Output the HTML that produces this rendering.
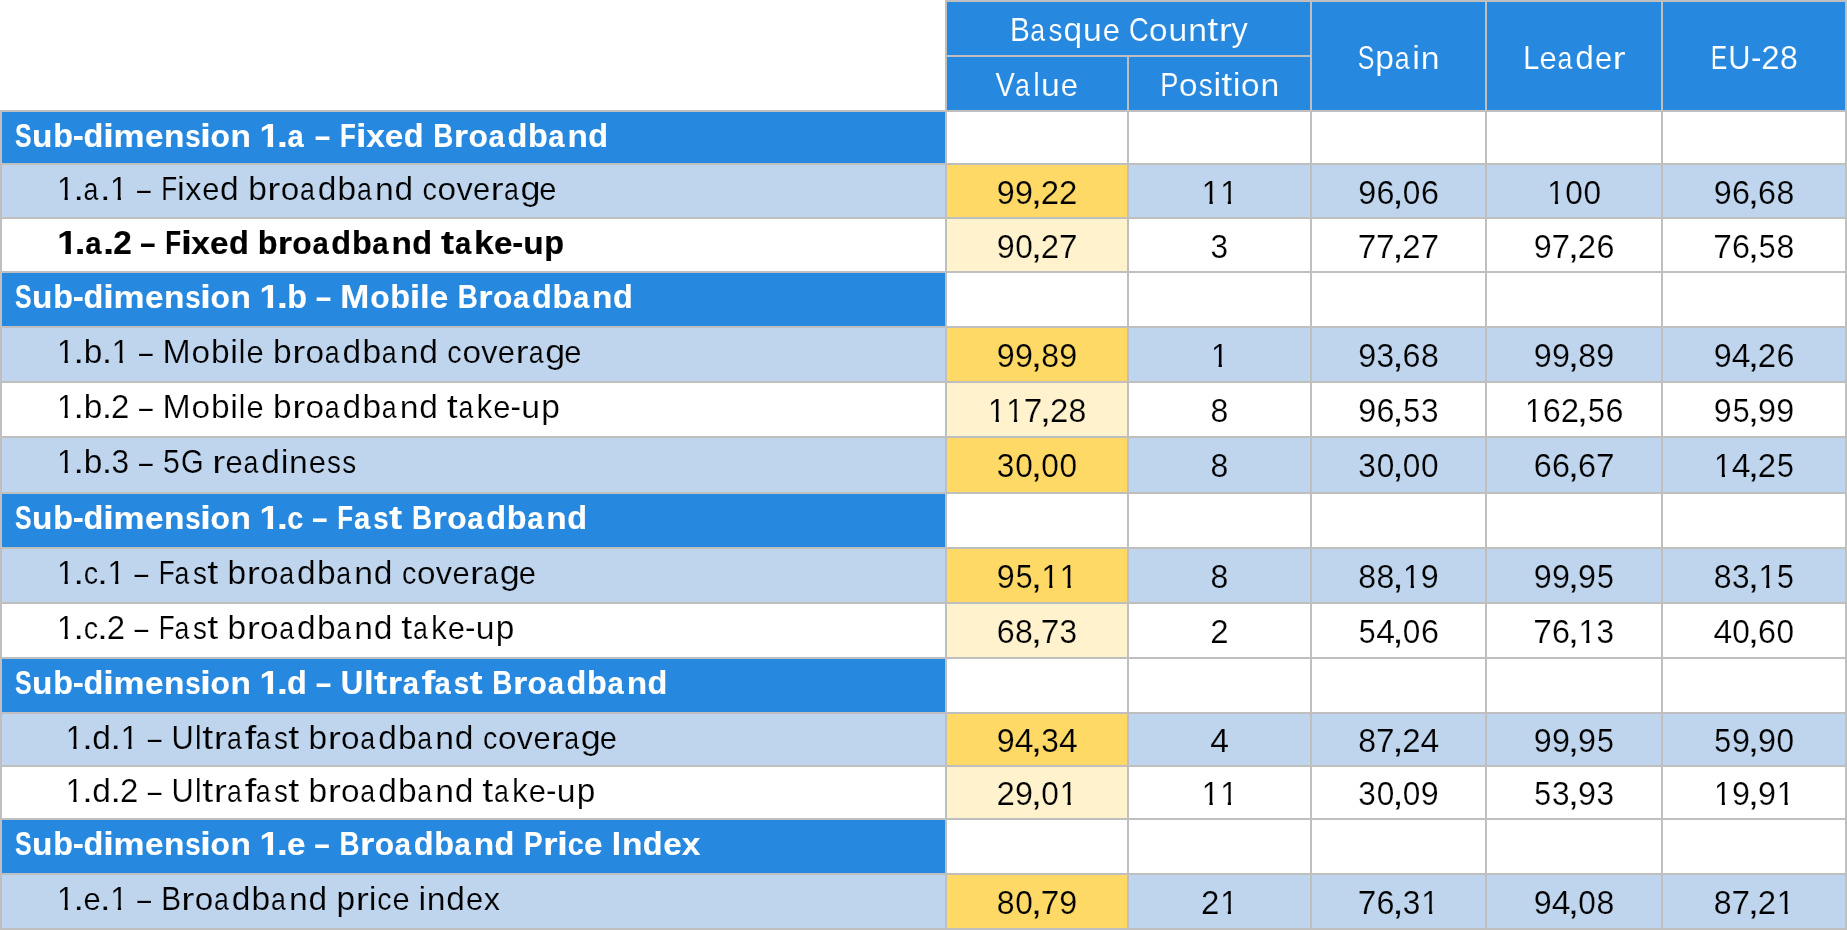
<!DOCTYPE html><html><head><meta charset="utf-8"><title>Table</title><style>
html,body{margin:0;padding:0;background:#fff;}
#w{position:relative;width:1847px;height:930px;overflow:hidden;background:#fff;font-family:"Liberation Sans",sans-serif;will-change:transform;}
.c{position:absolute;}
#w i{position:absolute;left:0;top:0;font-style:normal;white-space:pre;font-size:33px;line-height:33px;transform-origin:0 0;}
#w i.h{color:#fff;} #w i.b{font-weight:bold;}
#w i.sB{-webkit-text-stroke:0.15px #fff;}
#w i.sL{-webkit-text-stroke:0.22px #bed5ed;}
#w i.sW{-webkit-text-stroke:0.22px #fff;}
#w i.sY{-webkit-text-stroke:0.22px #ffd966;}
#w i.sZ{-webkit-text-stroke:0.22px #fff2cc;}
#w i.sW.b{-webkit-text-stroke:0.2px #000;}
#w i.sH{-webkit-text-stroke:0.15px #2688de;}
</style></head><body><div id="w">
<div class="c" style="left:945px;top:0;width:902px;height:112px;background:#bfbfbf"></div>
<div class="c" style="left:0;top:110px;width:1847px;height:820px;background:#bfbfbf"></div>
<div class="c" style="left:947px;top:2px;width:363px;height:53px;background:#2688de"></div>
<div class="c" style="left:947px;top:57px;width:180px;height:53px;background:#2688de"></div>
<div class="c" style="left:1129px;top:57px;width:181px;height:53px;background:#2688de"></div>
<div class="c" style="left:1312px;top:2px;width:173px;height:108px;background:#2688de"></div>
<div class="c" style="left:1487px;top:2px;width:174px;height:108px;background:#2688de"></div>
<div class="c" style="left:1663px;top:2px;width:182px;height:108px;background:#2688de"></div>
<div class="c" style="left:2px;top:112px;width:943px;height:51px;background:#2688de"></div>
<div class="c" style="left:947px;top:112px;width:180px;height:51px;background:#fff"></div>
<div class="c" style="left:1129px;top:112px;width:181px;height:51px;background:#fff"></div>
<div class="c" style="left:1312px;top:112px;width:173px;height:51px;background:#fff"></div>
<div class="c" style="left:1487px;top:112px;width:174px;height:51px;background:#fff"></div>
<div class="c" style="left:1663px;top:112px;width:182px;height:51px;background:#fff"></div>
<div class="c" style="left:2px;top:165px;width:943px;height:52px;background:#bed5ed"></div>
<div class="c" style="left:947px;top:165px;width:180px;height:52px;background:#ffd966"></div>
<div class="c" style="left:1129px;top:165px;width:181px;height:52px;background:#bed5ed"></div>
<div class="c" style="left:1312px;top:165px;width:173px;height:52px;background:#bed5ed"></div>
<div class="c" style="left:1487px;top:165px;width:174px;height:52px;background:#bed5ed"></div>
<div class="c" style="left:1663px;top:165px;width:182px;height:52px;background:#bed5ed"></div>
<div class="c" style="left:2px;top:219px;width:943px;height:52px;background:#fff"></div>
<div class="c" style="left:947px;top:219px;width:180px;height:52px;background:#fff2cc"></div>
<div class="c" style="left:1129px;top:219px;width:181px;height:52px;background:#fff"></div>
<div class="c" style="left:1312px;top:219px;width:173px;height:52px;background:#fff"></div>
<div class="c" style="left:1487px;top:219px;width:174px;height:52px;background:#fff"></div>
<div class="c" style="left:1663px;top:219px;width:182px;height:52px;background:#fff"></div>
<div class="c" style="left:2px;top:273px;width:943px;height:53px;background:#2688de"></div>
<div class="c" style="left:947px;top:273px;width:180px;height:53px;background:#fff"></div>
<div class="c" style="left:1129px;top:273px;width:181px;height:53px;background:#fff"></div>
<div class="c" style="left:1312px;top:273px;width:173px;height:53px;background:#fff"></div>
<div class="c" style="left:1487px;top:273px;width:174px;height:53px;background:#fff"></div>
<div class="c" style="left:1663px;top:273px;width:182px;height:53px;background:#fff"></div>
<div class="c" style="left:2px;top:328px;width:943px;height:53px;background:#bed5ed"></div>
<div class="c" style="left:947px;top:328px;width:180px;height:53px;background:#ffd966"></div>
<div class="c" style="left:1129px;top:328px;width:181px;height:53px;background:#bed5ed"></div>
<div class="c" style="left:1312px;top:328px;width:173px;height:53px;background:#bed5ed"></div>
<div class="c" style="left:1487px;top:328px;width:174px;height:53px;background:#bed5ed"></div>
<div class="c" style="left:1663px;top:328px;width:182px;height:53px;background:#bed5ed"></div>
<div class="c" style="left:2px;top:383px;width:943px;height:53px;background:#fff"></div>
<div class="c" style="left:947px;top:383px;width:180px;height:53px;background:#fff2cc"></div>
<div class="c" style="left:1129px;top:383px;width:181px;height:53px;background:#fff"></div>
<div class="c" style="left:1312px;top:383px;width:173px;height:53px;background:#fff"></div>
<div class="c" style="left:1487px;top:383px;width:174px;height:53px;background:#fff"></div>
<div class="c" style="left:1663px;top:383px;width:182px;height:53px;background:#fff"></div>
<div class="c" style="left:2px;top:438px;width:943px;height:54px;background:#bed5ed"></div>
<div class="c" style="left:947px;top:438px;width:180px;height:54px;background:#ffd966"></div>
<div class="c" style="left:1129px;top:438px;width:181px;height:54px;background:#bed5ed"></div>
<div class="c" style="left:1312px;top:438px;width:173px;height:54px;background:#bed5ed"></div>
<div class="c" style="left:1487px;top:438px;width:174px;height:54px;background:#bed5ed"></div>
<div class="c" style="left:1663px;top:438px;width:182px;height:54px;background:#bed5ed"></div>
<div class="c" style="left:2px;top:494px;width:943px;height:53px;background:#2688de"></div>
<div class="c" style="left:947px;top:494px;width:180px;height:53px;background:#fff"></div>
<div class="c" style="left:1129px;top:494px;width:181px;height:53px;background:#fff"></div>
<div class="c" style="left:1312px;top:494px;width:173px;height:53px;background:#fff"></div>
<div class="c" style="left:1487px;top:494px;width:174px;height:53px;background:#fff"></div>
<div class="c" style="left:1663px;top:494px;width:182px;height:53px;background:#fff"></div>
<div class="c" style="left:2px;top:549px;width:943px;height:53px;background:#bed5ed"></div>
<div class="c" style="left:947px;top:549px;width:180px;height:53px;background:#ffd966"></div>
<div class="c" style="left:1129px;top:549px;width:181px;height:53px;background:#bed5ed"></div>
<div class="c" style="left:1312px;top:549px;width:173px;height:53px;background:#bed5ed"></div>
<div class="c" style="left:1487px;top:549px;width:174px;height:53px;background:#bed5ed"></div>
<div class="c" style="left:1663px;top:549px;width:182px;height:53px;background:#bed5ed"></div>
<div class="c" style="left:2px;top:604px;width:943px;height:53px;background:#fff"></div>
<div class="c" style="left:947px;top:604px;width:180px;height:53px;background:#fff2cc"></div>
<div class="c" style="left:1129px;top:604px;width:181px;height:53px;background:#fff"></div>
<div class="c" style="left:1312px;top:604px;width:173px;height:53px;background:#fff"></div>
<div class="c" style="left:1487px;top:604px;width:174px;height:53px;background:#fff"></div>
<div class="c" style="left:1663px;top:604px;width:182px;height:53px;background:#fff"></div>
<div class="c" style="left:2px;top:659px;width:943px;height:53px;background:#2688de"></div>
<div class="c" style="left:947px;top:659px;width:180px;height:53px;background:#fff"></div>
<div class="c" style="left:1129px;top:659px;width:181px;height:53px;background:#fff"></div>
<div class="c" style="left:1312px;top:659px;width:173px;height:53px;background:#fff"></div>
<div class="c" style="left:1487px;top:659px;width:174px;height:53px;background:#fff"></div>
<div class="c" style="left:1663px;top:659px;width:182px;height:53px;background:#fff"></div>
<div class="c" style="left:2px;top:714px;width:943px;height:51px;background:#bed5ed"></div>
<div class="c" style="left:947px;top:714px;width:180px;height:51px;background:#ffd966"></div>
<div class="c" style="left:1129px;top:714px;width:181px;height:51px;background:#bed5ed"></div>
<div class="c" style="left:1312px;top:714px;width:173px;height:51px;background:#bed5ed"></div>
<div class="c" style="left:1487px;top:714px;width:174px;height:51px;background:#bed5ed"></div>
<div class="c" style="left:1663px;top:714px;width:182px;height:51px;background:#bed5ed"></div>
<div class="c" style="left:2px;top:767px;width:943px;height:51px;background:#fff"></div>
<div class="c" style="left:947px;top:767px;width:180px;height:51px;background:#fff2cc"></div>
<div class="c" style="left:1129px;top:767px;width:181px;height:51px;background:#fff"></div>
<div class="c" style="left:1312px;top:767px;width:173px;height:51px;background:#fff"></div>
<div class="c" style="left:1487px;top:767px;width:174px;height:51px;background:#fff"></div>
<div class="c" style="left:1663px;top:767px;width:182px;height:51px;background:#fff"></div>
<div class="c" style="left:2px;top:820px;width:943px;height:53px;background:#2688de"></div>
<div class="c" style="left:947px;top:820px;width:180px;height:53px;background:#fff"></div>
<div class="c" style="left:1129px;top:820px;width:181px;height:53px;background:#fff"></div>
<div class="c" style="left:1312px;top:820px;width:173px;height:53px;background:#fff"></div>
<div class="c" style="left:1487px;top:820px;width:174px;height:53px;background:#fff"></div>
<div class="c" style="left:1663px;top:820px;width:182px;height:53px;background:#fff"></div>
<div class="c" style="left:2px;top:875px;width:943px;height:53px;background:#bed5ed"></div>
<div class="c" style="left:947px;top:875px;width:180px;height:53px;background:#ffd966"></div>
<div class="c" style="left:1129px;top:875px;width:181px;height:53px;background:#bed5ed"></div>
<div class="c" style="left:1312px;top:875px;width:173px;height:53px;background:#bed5ed"></div>
<div class="c" style="left:1487px;top:875px;width:174px;height:53px;background:#bed5ed"></div>
<div class="c" style="left:1663px;top:875px;width:182px;height:53px;background:#bed5ed"></div>
<i class="h sH" style="transform:matrix(0.901,0,0,1,1009.90,13.00)">B</i>
<i class="h sH" style="transform:matrix(0.810,0,0,0.970,1030.27,13.84)">a</i>
<i class="h sH" style="transform:matrix(0.844,0,0,0.970,1048.62,13.84)">s</i>
<i class="h sH" style="transform:matrix(1.014,0,0,1,1063.39,13.00)">q</i>
<i class="h sH" style="transform:matrix(1.022,0,0,0.970,1082.98,13.84)">u</i>
<i class="h sH" style="transform:matrix(0.935,0,0,0.970,1102.74,13.84)">e</i>
<i class="h sH" style="transform:matrix(0.827,0,0,1,1129.08,13.00)">C</i>
<i class="h sH" style="transform:matrix(1.010,0,0,0.970,1149.10,13.84)">o</i>
<i class="h sH" style="transform:matrix(1.022,0,0,0.970,1168.40,13.84)">u</i>
<i class="h sH" style="transform:matrix(1.021,0,0,0.970,1188.18,13.84)">n</i>
<i class="h sH" style="transform:matrix(1.203,0,0,1,1207.20,13.00)">t</i>
<i class="h sH" style="transform:matrix(1.195,0,0,0.970,1218.74,13.84)">r</i>
<i class="h sH" style="transform:matrix(0.982,0,0,1,1231.62,13.00)">y</i>
<i class="h sH" style="transform:matrix(0.877,0,0,1,995.61,68.00)">V</i>
<i class="h sH" style="transform:matrix(0.810,0,0,0.970,1015.11,68.84)">a</i>
<i class="h sH" style="transform:matrix(0.894,0,0,1,1033.34,68.00)">l</i>
<i class="h sH" style="transform:matrix(1.022,0,0,0.970,1041.04,68.84)">u</i>
<i class="h sH" style="transform:matrix(0.935,0,0,0.970,1060.80,68.84)">e</i>
<i class="h sH" style="transform:matrix(0.825,0,0,1,1160.25,68.00)">P</i>
<i class="h sH" style="transform:matrix(1.010,0,0,0.970,1179.01,68.84)">o</i>
<i class="h sH" style="transform:matrix(0.844,0,0,0.970,1198.82,68.84)">s</i>
<i class="h sH" style="transform:matrix(1.056,0,0,1,1213.40,68.00)">i</i>
<i class="h sH" style="transform:matrix(1.203,0,0,1,1221.18,68.00)">t</i>
<i class="h sH" style="transform:matrix(1.056,0,0,1,1232.79,68.00)">i</i>
<i class="h sH" style="transform:matrix(1.010,0,0,0.970,1241.09,68.84)">o</i>
<i class="h sH" style="transform:matrix(1.021,0,0,0.970,1260.53,68.84)">n</i>
<i class="h sH" style="transform:matrix(0.757,0,0,1,1357.67,41.00)">S</i>
<i class="h sH" style="transform:matrix(1.016,0,0,1,1375.30,41.00)">p</i>
<i class="h sH" style="transform:matrix(0.810,0,0,0.970,1394.65,41.84)">a</i>
<i class="h sH" style="transform:matrix(1.056,0,0,1,1412.32,41.00)">i</i>
<i class="h sH" style="transform:matrix(1.021,0,0,0.970,1420.72,41.84)">n</i>
<i class="h sH" style="transform:matrix(0.875,0,0,1,1523.28,41.00)">L</i>
<i class="h sH" style="transform:matrix(0.935,0,0,0.970,1539.60,41.84)">e</i>
<i class="h sH" style="transform:matrix(0.810,0,0,0.970,1557.40,41.84)">a</i>
<i class="h sH" style="transform:matrix(1.015,0,0,1,1575.26,41.00)">d</i>
<i class="h sH" style="transform:matrix(0.935,0,0,0.970,1594.96,41.84)">e</i>
<i class="h sH" style="transform:matrix(1.195,0,0,0.970,1612.56,41.84)">r</i>
<i class="h sH" style="transform:matrix(0.750,0,0,1,1710.78,41.00)">E</i>
<i class="h sH" style="transform:matrix(0.933,0,0,1,1728.34,41.00)">U</i>
<i class="h sH" style="transform:matrix(0.952,0,0,1,1751.02,41.00)">-</i>
<i class="h sH" style="transform:matrix(0.999,0,0,1,1761.30,41.00)">2</i>
<i class="h sH" style="transform:matrix(0.970,0,0,1,1779.93,41.00)">8</i>
<i class="h b sB" style="transform:matrix(0.753,0,0,1,14.88,119.00)">S</i>
<i class="h b sB" style="transform:matrix(1.012,0,0,0.970,32.09,119.84)">u</i>
<i class="h b sB" style="transform:matrix(0.981,0,0,1,53.15,119.00)">b</i>
<i class="h b sB" style="transform:matrix(1.001,0,0,1,72.70,119.00)">-</i>
<i class="h b sB" style="transform:matrix(0.982,0,0,1,83.44,119.00)">d</i>
<i class="h b sB" style="transform:matrix(1.146,0,0,1,103.24,119.00)">i</i>
<i class="h b sB" style="transform:matrix(1.056,0,0,0.970,113.55,119.84)">m</i>
<i class="h b sB" style="transform:matrix(1.010,0,0,0.970,144.91,119.84)">e</i>
<i class="h b sB" style="transform:matrix(1.012,0,0,0.970,163.98,119.84)">n</i>
<i class="h b sB" style="transform:matrix(0.837,0,0,0.970,185.18,119.84)">s</i>
<i class="h b sB" style="transform:matrix(1.146,0,0,1,200.27,119.00)">i</i>
<i class="h b sB" style="transform:matrix(0.963,0,0,0.970,210.58,119.84)">o</i>
<i class="h b sB" style="transform:matrix(1.012,0,0,0.970,230.49,119.84)">n</i>
<i class="h b sB" style="transform:matrix(1.100,0,0,1,259.38,119.00);clip-path:polygon(-9px -9px,40px -9px,40px 23.43px,12.48px 23.43px,12.48px 40px,7.45px 40px,7.45px 23.43px,-9px 23.43px)">1</i>
<i class="h b sB" style="transform:matrix(1.174,0,0,1,277.00,119.00)">.</i>
<i class="h b sB" style="transform:matrix(0.885,0,0,0.970,287.42,119.84)">a</i>
<i class="h b sB" style="transform:matrix(0.822,0,0,1,315.03,119.00)">–</i>
<i class="h b sB" style="transform:matrix(0.782,0,0,1,340.03,119.00)">F</i>
<i class="h b sB" style="transform:matrix(1.146,0,0,1,356.10,119.00)">i</i>
<i class="h b sB" style="transform:matrix(1.017,0,0,0.970,366.14,119.84)">x</i>
<i class="h b sB" style="transform:matrix(1.010,0,0,0.970,384.85,119.84)">e</i>
<i class="h b sB" style="transform:matrix(0.982,0,0,1,403.72,119.00)">d</i>
<i class="h b sB" style="transform:matrix(0.842,0,0,1,433.20,119.00)">B</i>
<i class="h b sB" style="transform:matrix(1.117,0,0,0.970,453.75,119.84)">r</i>
<i class="h b sB" style="transform:matrix(0.963,0,0,0.970,468.40,119.84)">o</i>
<i class="h b sB" style="transform:matrix(0.885,0,0,0.970,488.51,119.84)">a</i>
<i class="h b sB" style="transform:matrix(0.982,0,0,1,507.46,119.00)">d</i>
<i class="h b sB" style="transform:matrix(0.981,0,0,1,527.97,119.00)">b</i>
<i class="h b sB" style="transform:matrix(0.885,0,0,0.970,548.34,119.84)">a</i>
<i class="h b sB" style="transform:matrix(1.012,0,0,0.970,567.48,119.84)">n</i>
<i class="h b sB" style="transform:matrix(0.982,0,0,1,588.32,119.00)">d</i>
<i class="sL" style="transform:matrix(0.950,0,0,1,56.90,172.00);clip-path:polygon(-9px -9px,40px -9px,40px 24.33px,11.46px 24.33px,11.46px 40px,8.05px 40px,8.05px 24.33px,-9px 24.33px)">1</i>
<i class="sL" style="transform:matrix(1.198,0,0,1,73.32,172.00)">.</i>
<i class="sL" style="transform:matrix(0.810,0,0,0.970,83.41,172.84)">a</i>
<i class="sL" style="transform:matrix(1.198,0,0,1,99.64,172.00)">.</i>
<i class="sL" style="transform:matrix(0.950,0,0,1,110.02,172.00);clip-path:polygon(-9px -9px,40px -9px,40px 24.33px,11.46px 24.33px,11.46px 40px,8.05px 40px,8.05px 24.33px,-9px 24.33px)">1</i>
<i class="sL" style="transform:matrix(0.750,0,0,1,137.12,172.00)">–</i>
<i class="sL" style="transform:matrix(0.790,0,0,1,161.31,172.00)">F</i>
<i class="sL" style="transform:matrix(1.056,0,0,1,177.03,172.00)">i</i>
<i class="sL" style="transform:matrix(0.984,0,0,0.970,185.16,172.84)">x</i>
<i class="sL" style="transform:matrix(0.935,0,0,0.970,202.17,172.84)">e</i>
<i class="sL" style="transform:matrix(1.015,0,0,1,220.03,172.00)">d</i>
<i class="sL" style="transform:matrix(1.016,0,0,1,248.15,172.00)">b</i>
<i class="sL" style="transform:matrix(1.195,0,0,0.970,267.30,172.84)">r</i>
<i class="sL" style="transform:matrix(1.010,0,0,0.970,280.63,172.84)">o</i>
<i class="sL" style="transform:matrix(0.810,0,0,0.970,299.89,172.84)">a</i>
<i class="sL" style="transform:matrix(1.015,0,0,1,317.75,172.00)">d</i>
<i class="sL" style="transform:matrix(1.016,0,0,1,337.55,172.00)">b</i>
<i class="sL" style="transform:matrix(0.810,0,0,0.970,356.91,172.84)">a</i>
<i class="sL" style="transform:matrix(1.021,0,0,0.970,374.88,172.84)">n</i>
<i class="sL" style="transform:matrix(1.015,0,0,1,394.40,172.00)">d</i>
<i class="sL" style="transform:matrix(0.870,0,0,0.970,422.51,172.84)">c</i>
<i class="sL" style="transform:matrix(1.010,0,0,0.970,437.57,172.84)">o</i>
<i class="sL" style="transform:matrix(0.985,0,0,0.970,456.39,172.84)">v</i>
<i class="sL" style="transform:matrix(0.935,0,0,0.970,473.01,172.84)">e</i>
<i class="sL" style="transform:matrix(1.195,0,0,0.970,490.61,172.84)">r</i>
<i class="sL" style="transform:matrix(0.810,0,0,0.970,503.88,172.84)">a</i>
<i class="sL" style="transform:matrix(1.089,0,0,1,520.44,172.00)">g</i>
<i class="sL" style="transform:matrix(0.935,0,0,0.970,539.36,172.84)">e</i>
<i class="sY" style="transform:matrix(0.979,0,0,1,996.63,176.00)">9</i>
<i class="sY" style="transform:matrix(0.979,0,0,1,1014.92,176.00)">9</i>
<i class="sY" style="transform:matrix(1.300,0,0,1,1030.46,176.00)">,</i>
<i class="sY" style="transform:matrix(0.999,0,0,1,1040.83,176.00)">2</i>
<i class="sY" style="transform:matrix(0.999,0,0,1,1059.12,176.00)">2</i>
<i class="sL" style="transform:matrix(0.950,0,0,1,1201.84,176.00);clip-path:polygon(-9px -9px,40px -9px,40px 24.33px,11.46px 24.33px,11.46px 40px,8.05px 40px,8.05px 24.33px,-9px 24.33px)">1</i>
<i class="sL" style="transform:matrix(0.950,0,0,1,1220.14,176.00);clip-path:polygon(-9px -9px,40px -9px,40px 24.33px,11.46px 24.33px,11.46px 40px,8.05px 40px,8.05px 24.33px,-9px 24.33px)">1</i>
<i class="sL" style="transform:matrix(0.979,0,0,1,1358.13,176.00)">9</i>
<i class="sL" style="transform:matrix(0.979,0,0,1,1376.47,176.00)">6</i>
<i class="sL" style="transform:matrix(1.300,0,0,1,1391.96,176.00)">,</i>
<i class="sL" style="transform:matrix(0.958,0,0,1,1402.78,176.00)">0</i>
<i class="sL" style="transform:matrix(0.979,0,0,1,1420.91,176.00)">6</i>
<i class="sL" style="transform:matrix(0.950,0,0,1,1547.19,176.00);clip-path:polygon(-9px -9px,40px -9px,40px 24.33px,11.46px 24.33px,11.46px 40px,8.05px 40px,8.05px 24.33px,-9px 24.33px)">1</i>
<i class="sL" style="transform:matrix(0.958,0,0,1,1565.21,176.00)">0</i>
<i class="sL" style="transform:matrix(0.958,0,0,1,1583.51,176.00)">0</i>
<i class="sL" style="transform:matrix(0.979,0,0,1,1713.63,176.00)">9</i>
<i class="sL" style="transform:matrix(0.979,0,0,1,1731.97,176.00)">6</i>
<i class="sL" style="transform:matrix(1.300,0,0,1,1747.46,176.00)">,</i>
<i class="sL" style="transform:matrix(0.979,0,0,1,1758.11,176.00)">6</i>
<i class="sL" style="transform:matrix(0.970,0,0,1,1776.45,176.00)">8</i>
<i class="b sW" style="transform:matrix(1.100,0,0,1,57.15,226.00);clip-path:polygon(-9px -9px,40px -9px,40px 23.43px,12.48px 23.43px,12.48px 40px,7.45px 40px,7.45px 23.43px,-9px 23.43px)">1</i>
<i class="b sW" style="transform:matrix(1.174,0,0,1,74.77,226.00)">.</i>
<i class="b sW" style="transform:matrix(0.885,0,0,0.970,85.19,226.84)">a</i>
<i class="b sW" style="transform:matrix(1.174,0,0,1,103.23,226.00)">.</i>
<i class="b sW" style="transform:matrix(1.009,0,0,1,113.22,226.00)">2</i>
<i class="b sW" style="transform:matrix(0.822,0,0,1,140.19,226.00)">–</i>
<i class="b sW" style="transform:matrix(0.782,0,0,1,165.19,226.00)">F</i>
<i class="b sW" style="transform:matrix(1.146,0,0,1,181.26,226.00)">i</i>
<i class="b sW" style="transform:matrix(1.017,0,0,0.970,191.30,226.84)">x</i>
<i class="b sW" style="transform:matrix(1.010,0,0,0.970,210.01,226.84)">e</i>
<i class="b sW" style="transform:matrix(0.982,0,0,1,228.89,226.00)">d</i>
<i class="b sW" style="transform:matrix(0.981,0,0,1,257.71,226.00)">b</i>
<i class="b sW" style="transform:matrix(1.117,0,0,0.970,277.66,226.84)">r</i>
<i class="b sW" style="transform:matrix(0.963,0,0,0.970,292.32,226.84)">o</i>
<i class="b sW" style="transform:matrix(0.885,0,0,0.970,312.42,226.84)">a</i>
<i class="b sW" style="transform:matrix(0.982,0,0,1,331.37,226.00)">d</i>
<i class="b sW" style="transform:matrix(0.981,0,0,1,351.88,226.00)">b</i>
<i class="b sW" style="transform:matrix(0.885,0,0,0.970,372.25,226.84)">a</i>
<i class="b sW" style="transform:matrix(1.012,0,0,0.970,391.39,226.84)">n</i>
<i class="b sW" style="transform:matrix(0.982,0,0,1,412.23,226.00)">d</i>
<i class="b sW" style="transform:matrix(1.191,0,0,1,440.94,226.00)">t</i>
<i class="b sW" style="transform:matrix(0.885,0,0,0.970,455.06,226.84)">a</i>
<i class="b sW" style="transform:matrix(1.079,0,0,1,473.92,226.00)">k</i>
<i class="b sW" style="transform:matrix(1.010,0,0,0.970,493.88,226.84)">e</i>
<i class="b sW" style="transform:matrix(1.001,0,0,1,512.32,226.00)">-</i>
<i class="b sW" style="transform:matrix(1.012,0,0,0.970,523.29,226.84)">u</i>
<i class="b sW" style="transform:matrix(0.981,0,0,1,544.35,226.00)">p</i>
<i class="sZ" style="transform:matrix(0.979,0,0,1,996.63,230.00)">9</i>
<i class="sZ" style="transform:matrix(0.958,0,0,1,1015.14,230.00)">0</i>
<i class="sZ" style="transform:matrix(1.300,0,0,1,1030.46,230.00)">,</i>
<i class="sZ" style="transform:matrix(0.999,0,0,1,1040.83,230.00)">2</i>
<i class="sZ" style="transform:matrix(1.013,0,0,1,1058.97,230.00)">7</i>
<i class="sW" style="transform:matrix(0.956,0,0,1,1210.62,230.00)">3</i>
<i class="sW" style="transform:matrix(1.013,0,0,1,1357.74,230.00)">7</i>
<i class="sW" style="transform:matrix(1.013,0,0,1,1376.04,230.00)">7</i>
<i class="sW" style="transform:matrix(1.300,0,0,1,1391.96,230.00)">,</i>
<i class="sW" style="transform:matrix(0.999,0,0,1,1402.33,230.00)">2</i>
<i class="sW" style="transform:matrix(1.013,0,0,1,1420.47,230.00)">7</i>
<i class="sW" style="transform:matrix(0.979,0,0,1,1533.63,230.00)">9</i>
<i class="sW" style="transform:matrix(1.013,0,0,1,1551.54,230.00)">7</i>
<i class="sW" style="transform:matrix(1.300,0,0,1,1567.46,230.00)">,</i>
<i class="sW" style="transform:matrix(0.999,0,0,1,1577.83,230.00)">2</i>
<i class="sW" style="transform:matrix(0.979,0,0,1,1596.41,230.00)">6</i>
<i class="sW" style="transform:matrix(1.013,0,0,1,1713.24,230.00)">7</i>
<i class="sW" style="transform:matrix(0.979,0,0,1,1731.97,230.00)">6</i>
<i class="sW" style="transform:matrix(1.300,0,0,1,1747.46,230.00)">,</i>
<i class="sW" style="transform:matrix(0.919,0,0,1,1758.79,230.00)">5</i>
<i class="sW" style="transform:matrix(0.970,0,0,1,1776.45,230.00)">8</i>
<i class="h b sB" style="transform:matrix(0.753,0,0,1,14.88,280.00)">S</i>
<i class="h b sB" style="transform:matrix(1.012,0,0,0.970,32.09,280.84)">u</i>
<i class="h b sB" style="transform:matrix(0.981,0,0,1,53.15,280.00)">b</i>
<i class="h b sB" style="transform:matrix(1.001,0,0,1,72.70,280.00)">-</i>
<i class="h b sB" style="transform:matrix(0.982,0,0,1,83.44,280.00)">d</i>
<i class="h b sB" style="transform:matrix(1.146,0,0,1,103.24,280.00)">i</i>
<i class="h b sB" style="transform:matrix(1.056,0,0,0.970,113.55,280.84)">m</i>
<i class="h b sB" style="transform:matrix(1.010,0,0,0.970,144.91,280.84)">e</i>
<i class="h b sB" style="transform:matrix(1.012,0,0,0.970,163.98,280.84)">n</i>
<i class="h b sB" style="transform:matrix(0.837,0,0,0.970,185.18,280.84)">s</i>
<i class="h b sB" style="transform:matrix(1.146,0,0,1,200.27,280.00)">i</i>
<i class="h b sB" style="transform:matrix(0.963,0,0,0.970,210.58,280.84)">o</i>
<i class="h b sB" style="transform:matrix(1.012,0,0,0.970,230.49,280.84)">n</i>
<i class="h b sB" style="transform:matrix(1.100,0,0,1,259.38,280.00);clip-path:polygon(-9px -9px,40px -9px,40px 23.43px,12.48px 23.43px,12.48px 40px,7.45px 40px,7.45px 23.43px,-9px 23.43px)">1</i>
<i class="h b sB" style="transform:matrix(1.174,0,0,1,277.00,280.00)">.</i>
<i class="h b sB" style="transform:matrix(0.981,0,0,1,287.29,280.00)">b</i>
<i class="h b sB" style="transform:matrix(0.822,0,0,1,315.95,280.00)">–</i>
<i class="h b sB" style="transform:matrix(1.058,0,0,1,340.34,280.00)">M</i>
<i class="h b sB" style="transform:matrix(0.963,0,0,0.970,370.17,280.84)">o</i>
<i class="h b sB" style="transform:matrix(0.981,0,0,1,390.15,280.00)">b</i>
<i class="h b sB" style="transform:matrix(1.146,0,0,1,409.69,280.00)">i</i>
<i class="h b sB" style="transform:matrix(1.053,0,0,1,419.88,280.00)">l</i>
<i class="h b sB" style="transform:matrix(1.010,0,0,0.970,429.70,280.84)">e</i>
<i class="h b sB" style="transform:matrix(0.842,0,0,1,457.80,280.00)">B</i>
<i class="h b sB" style="transform:matrix(1.117,0,0,0.970,478.36,280.84)">r</i>
<i class="h b sB" style="transform:matrix(0.963,0,0,0.970,493.01,280.84)">o</i>
<i class="h b sB" style="transform:matrix(0.885,0,0,0.970,513.12,280.84)">a</i>
<i class="h b sB" style="transform:matrix(0.982,0,0,1,532.07,280.00)">d</i>
<i class="h b sB" style="transform:matrix(0.981,0,0,1,552.58,280.00)">b</i>
<i class="h b sB" style="transform:matrix(0.885,0,0,0.970,572.95,280.84)">a</i>
<i class="h b sB" style="transform:matrix(1.012,0,0,0.970,592.09,280.84)">n</i>
<i class="h b sB" style="transform:matrix(0.982,0,0,1,612.93,280.00)">d</i>
<i class="sL" style="transform:matrix(0.950,0,0,1,56.90,335.00);clip-path:polygon(-9px -9px,40px -9px,40px 24.33px,11.46px 24.33px,11.46px 40px,8.05px 40px,8.05px 24.33px,-9px 24.33px)">1</i>
<i class="sL" style="transform:matrix(1.198,0,0,1,73.32,335.00)">.</i>
<i class="sL" style="transform:matrix(1.016,0,0,1,83.66,335.00)">b</i>
<i class="sL" style="transform:matrix(1.198,0,0,1,101.45,335.00)">.</i>
<i class="sL" style="transform:matrix(0.950,0,0,1,111.84,335.00);clip-path:polygon(-9px -9px,40px -9px,40px 24.33px,11.46px 24.33px,11.46px 40px,8.05px 40px,8.05px 24.33px,-9px 24.33px)">1</i>
<i class="sL" style="transform:matrix(0.750,0,0,1,138.93,335.00)">–</i>
<i class="sL" style="transform:matrix(1.025,0,0,1,162.49,335.00)">M</i>
<i class="sL" style="transform:matrix(1.010,0,0,0.970,191.41,335.84)">o</i>
<i class="sL" style="transform:matrix(1.016,0,0,1,210.93,335.00)">b</i>
<i class="sL" style="transform:matrix(1.056,0,0,1,230.15,335.00)">i</i>
<i class="sL" style="transform:matrix(0.894,0,0,1,238.81,335.00)">l</i>
<i class="sL" style="transform:matrix(0.935,0,0,0.970,246.62,335.84)">e</i>
<i class="sL" style="transform:matrix(1.016,0,0,1,272.99,335.00)">b</i>
<i class="sL" style="transform:matrix(1.195,0,0,0.970,292.14,335.84)">r</i>
<i class="sL" style="transform:matrix(1.010,0,0,0.970,305.47,335.84)">o</i>
<i class="sL" style="transform:matrix(0.810,0,0,0.970,324.74,335.84)">a</i>
<i class="sL" style="transform:matrix(1.015,0,0,1,342.59,335.00)">d</i>
<i class="sL" style="transform:matrix(1.016,0,0,1,362.40,335.00)">b</i>
<i class="sL" style="transform:matrix(0.810,0,0,0.970,381.75,335.84)">a</i>
<i class="sL" style="transform:matrix(1.021,0,0,0.970,399.73,335.84)">n</i>
<i class="sL" style="transform:matrix(1.015,0,0,1,419.25,335.00)">d</i>
<i class="sL" style="transform:matrix(0.870,0,0,0.970,447.36,335.84)">c</i>
<i class="sL" style="transform:matrix(1.010,0,0,0.970,462.41,335.84)">o</i>
<i class="sL" style="transform:matrix(0.985,0,0,0.970,481.23,335.84)">v</i>
<i class="sL" style="transform:matrix(0.935,0,0,0.970,497.86,335.84)">e</i>
<i class="sL" style="transform:matrix(1.195,0,0,0.970,515.46,335.84)">r</i>
<i class="sL" style="transform:matrix(0.810,0,0,0.970,528.72,335.84)">a</i>
<i class="sL" style="transform:matrix(1.089,0,0,1,545.29,335.00)">g</i>
<i class="sL" style="transform:matrix(0.935,0,0,0.970,564.20,335.84)">e</i>
<i class="sY" style="transform:matrix(0.979,0,0,1,996.63,339.00)">9</i>
<i class="sY" style="transform:matrix(0.979,0,0,1,1014.92,339.00)">9</i>
<i class="sY" style="transform:matrix(1.300,0,0,1,1030.46,339.00)">,</i>
<i class="sY" style="transform:matrix(0.970,0,0,1,1041.16,339.00)">8</i>
<i class="sY" style="transform:matrix(0.979,0,0,1,1059.36,339.00)">9</i>
<i class="sL" style="transform:matrix(0.950,0,0,1,1210.99,339.00);clip-path:polygon(-9px -9px,40px -9px,40px 24.33px,11.46px 24.33px,11.46px 40px,8.05px 40px,8.05px 24.33px,-9px 24.33px)">1</i>
<i class="sL" style="transform:matrix(0.979,0,0,1,1358.13,339.00)">9</i>
<i class="sL" style="transform:matrix(0.956,0,0,1,1376.55,339.00)">3</i>
<i class="sL" style="transform:matrix(1.300,0,0,1,1391.96,339.00)">,</i>
<i class="sL" style="transform:matrix(0.979,0,0,1,1402.61,339.00)">6</i>
<i class="sL" style="transform:matrix(0.970,0,0,1,1420.95,339.00)">8</i>
<i class="sL" style="transform:matrix(0.979,0,0,1,1533.63,339.00)">9</i>
<i class="sL" style="transform:matrix(0.979,0,0,1,1551.92,339.00)">9</i>
<i class="sL" style="transform:matrix(1.300,0,0,1,1567.46,339.00)">,</i>
<i class="sL" style="transform:matrix(0.970,0,0,1,1578.16,339.00)">8</i>
<i class="sL" style="transform:matrix(0.979,0,0,1,1596.36,339.00)">9</i>
<i class="sL" style="transform:matrix(0.979,0,0,1,1713.63,339.00)">9</i>
<i class="sL" style="transform:matrix(1.021,0,0,1,1731.68,339.00)">4</i>
<i class="sL" style="transform:matrix(1.300,0,0,1,1747.46,339.00)">,</i>
<i class="sL" style="transform:matrix(0.999,0,0,1,1757.83,339.00)">2</i>
<i class="sL" style="transform:matrix(0.979,0,0,1,1776.41,339.00)">6</i>
<i class="sW" style="transform:matrix(0.950,0,0,1,56.90,390.00);clip-path:polygon(-9px -9px,40px -9px,40px 24.33px,11.46px 24.33px,11.46px 40px,8.05px 40px,8.05px 24.33px,-9px 24.33px)">1</i>
<i class="sW" style="transform:matrix(1.198,0,0,1,73.32,390.00)">.</i>
<i class="sW" style="transform:matrix(1.016,0,0,1,83.66,390.00)">b</i>
<i class="sW" style="transform:matrix(1.198,0,0,1,101.45,390.00)">.</i>
<i class="sW" style="transform:matrix(0.999,0,0,1,111.10,390.00)">2</i>
<i class="sW" style="transform:matrix(0.750,0,0,1,138.93,390.00)">–</i>
<i class="sW" style="transform:matrix(1.025,0,0,1,162.49,390.00)">M</i>
<i class="sW" style="transform:matrix(1.010,0,0,0.970,191.41,390.84)">o</i>
<i class="sW" style="transform:matrix(1.016,0,0,1,210.93,390.00)">b</i>
<i class="sW" style="transform:matrix(1.056,0,0,1,230.15,390.00)">i</i>
<i class="sW" style="transform:matrix(0.894,0,0,1,238.81,390.00)">l</i>
<i class="sW" style="transform:matrix(0.935,0,0,0.970,246.62,390.84)">e</i>
<i class="sW" style="transform:matrix(1.016,0,0,1,272.99,390.00)">b</i>
<i class="sW" style="transform:matrix(1.195,0,0,0.970,292.14,390.84)">r</i>
<i class="sW" style="transform:matrix(1.010,0,0,0.970,305.47,390.84)">o</i>
<i class="sW" style="transform:matrix(0.810,0,0,0.970,324.74,390.84)">a</i>
<i class="sW" style="transform:matrix(1.015,0,0,1,342.59,390.00)">d</i>
<i class="sW" style="transform:matrix(1.016,0,0,1,362.40,390.00)">b</i>
<i class="sW" style="transform:matrix(0.810,0,0,0.970,381.75,390.84)">a</i>
<i class="sW" style="transform:matrix(1.021,0,0,0.970,399.73,390.84)">n</i>
<i class="sW" style="transform:matrix(1.015,0,0,1,419.25,390.00)">d</i>
<i class="sW" style="transform:matrix(1.203,0,0,1,446.66,390.00)">t</i>
<i class="sW" style="transform:matrix(0.810,0,0,0.970,458.41,390.84)">a</i>
<i class="sW" style="transform:matrix(0.957,0,0,1,476.49,390.00)">k</i>
<i class="sW" style="transform:matrix(0.935,0,0,0.970,493.15,390.84)">e</i>
<i class="sW" style="transform:matrix(0.952,0,0,1,510.54,390.00)">-</i>
<i class="sW" style="transform:matrix(1.022,0,0,0.970,521.29,390.84)">u</i>
<i class="sW" style="transform:matrix(1.016,0,0,1,541.15,390.00)">p</i>
<i class="sZ" style="transform:matrix(0.950,0,0,1,987.97,394.00);clip-path:polygon(-9px -9px,40px -9px,40px 24.33px,11.46px 24.33px,11.46px 40px,8.05px 40px,8.05px 24.33px,-9px 24.33px)">1</i>
<i class="sZ" style="transform:matrix(0.950,0,0,1,1006.27,394.00);clip-path:polygon(-9px -9px,40px -9px,40px 24.33px,11.46px 24.33px,11.46px 40px,8.05px 40px,8.05px 24.33px,-9px 24.33px)">1</i>
<i class="sZ" style="transform:matrix(1.013,0,0,1,1023.68,394.00)">7</i>
<i class="sZ" style="transform:matrix(1.300,0,0,1,1039.61,394.00)">,</i>
<i class="sZ" style="transform:matrix(0.999,0,0,1,1049.98,394.00)">2</i>
<i class="sZ" style="transform:matrix(0.970,0,0,1,1068.60,394.00)">8</i>
<i class="sW" style="transform:matrix(0.970,0,0,1,1210.59,394.00)">8</i>
<i class="sW" style="transform:matrix(0.979,0,0,1,1358.13,394.00)">9</i>
<i class="sW" style="transform:matrix(0.979,0,0,1,1376.47,394.00)">6</i>
<i class="sW" style="transform:matrix(1.300,0,0,1,1391.96,394.00)">,</i>
<i class="sW" style="transform:matrix(0.919,0,0,1,1403.29,394.00)">5</i>
<i class="sW" style="transform:matrix(0.956,0,0,1,1420.99,394.00)">3</i>
<i class="sW" style="transform:matrix(0.950,0,0,1,1524.97,394.00);clip-path:polygon(-9px -9px,40px -9px,40px 24.33px,11.46px 24.33px,11.46px 40px,8.05px 40px,8.05px 24.33px,-9px 24.33px)">1</i>
<i class="sW" style="transform:matrix(0.979,0,0,1,1542.82,394.00)">6</i>
<i class="sW" style="transform:matrix(0.999,0,0,1,1560.83,394.00)">2</i>
<i class="sW" style="transform:matrix(1.300,0,0,1,1576.61,394.00)">,</i>
<i class="sW" style="transform:matrix(0.919,0,0,1,1587.93,394.00)">5</i>
<i class="sW" style="transform:matrix(0.979,0,0,1,1605.55,394.00)">6</i>
<i class="sW" style="transform:matrix(0.979,0,0,1,1713.63,394.00)">9</i>
<i class="sW" style="transform:matrix(0.919,0,0,1,1732.65,394.00)">5</i>
<i class="sW" style="transform:matrix(1.300,0,0,1,1747.46,394.00)">,</i>
<i class="sW" style="transform:matrix(0.979,0,0,1,1758.06,394.00)">9</i>
<i class="sW" style="transform:matrix(0.979,0,0,1,1776.36,394.00)">9</i>
<i class="sL" style="transform:matrix(0.950,0,0,1,56.90,445.00);clip-path:polygon(-9px -9px,40px -9px,40px 24.33px,11.46px 24.33px,11.46px 40px,8.05px 40px,8.05px 24.33px,-9px 24.33px)">1</i>
<i class="sL" style="transform:matrix(1.198,0,0,1,73.32,445.00)">.</i>
<i class="sL" style="transform:matrix(1.016,0,0,1,83.66,445.00)">b</i>
<i class="sL" style="transform:matrix(1.198,0,0,1,101.45,445.00)">.</i>
<i class="sL" style="transform:matrix(0.956,0,0,1,111.47,445.00)">3</i>
<i class="sL" style="transform:matrix(0.750,0,0,1,138.93,445.00)">–</i>
<i class="sL" style="transform:matrix(0.919,0,0,1,162.99,445.00)">5</i>
<i class="sL" style="transform:matrix(0.882,0,0,1,180.91,445.00)">G</i>
<i class="sL" style="transform:matrix(1.195,0,0,0.970,212.16,445.84)">r</i>
<i class="sL" style="transform:matrix(0.935,0,0,0.970,225.58,445.84)">e</i>
<i class="sL" style="transform:matrix(0.810,0,0,0.970,243.38,445.84)">a</i>
<i class="sL" style="transform:matrix(1.015,0,0,1,261.23,445.00)">d</i>
<i class="sL" style="transform:matrix(1.056,0,0,1,280.65,445.00)">i</i>
<i class="sL" style="transform:matrix(1.021,0,0,0.970,289.06,445.84)">n</i>
<i class="sL" style="transform:matrix(0.935,0,0,0.970,308.67,445.84)">e</i>
<i class="sL" style="transform:matrix(0.844,0,0,0.970,327.02,445.84)">s</i>
<i class="sL" style="transform:matrix(0.844,0,0,0.970,342.28,445.84)">s</i>
<i class="sY" style="transform:matrix(0.956,0,0,1,996.75,449.00)">3</i>
<i class="sY" style="transform:matrix(0.958,0,0,1,1015.14,449.00)">0</i>
<i class="sY" style="transform:matrix(1.300,0,0,1,1030.46,449.00)">,</i>
<i class="sY" style="transform:matrix(0.958,0,0,1,1041.28,449.00)">0</i>
<i class="sY" style="transform:matrix(0.958,0,0,1,1059.58,449.00)">0</i>
<i class="sL" style="transform:matrix(0.970,0,0,1,1210.59,449.00)">8</i>
<i class="sL" style="transform:matrix(0.956,0,0,1,1358.25,449.00)">3</i>
<i class="sL" style="transform:matrix(0.958,0,0,1,1376.64,449.00)">0</i>
<i class="sL" style="transform:matrix(1.300,0,0,1,1391.96,449.00)">,</i>
<i class="sL" style="transform:matrix(0.958,0,0,1,1402.78,449.00)">0</i>
<i class="sL" style="transform:matrix(0.958,0,0,1,1421.08,449.00)">0</i>
<i class="sL" style="transform:matrix(0.979,0,0,1,1533.67,449.00)">6</i>
<i class="sL" style="transform:matrix(0.979,0,0,1,1551.97,449.00)">6</i>
<i class="sL" style="transform:matrix(1.300,0,0,1,1567.46,449.00)">,</i>
<i class="sL" style="transform:matrix(0.979,0,0,1,1578.11,449.00)">6</i>
<i class="sL" style="transform:matrix(1.013,0,0,1,1595.97,449.00)">7</i>
<i class="sL" style="transform:matrix(0.950,0,0,1,1714.12,449.00);clip-path:polygon(-9px -9px,40px -9px,40px 24.33px,11.46px 24.33px,11.46px 40px,8.05px 40px,8.05px 24.33px,-9px 24.33px)">1</i>
<i class="sL" style="transform:matrix(1.021,0,0,1,1731.68,449.00)">4</i>
<i class="sL" style="transform:matrix(1.300,0,0,1,1747.46,449.00)">,</i>
<i class="sL" style="transform:matrix(0.999,0,0,1,1757.83,449.00)">2</i>
<i class="sL" style="transform:matrix(0.919,0,0,1,1777.08,449.00)">5</i>
<i class="h b sB" style="transform:matrix(0.753,0,0,1,14.88,501.00)">S</i>
<i class="h b sB" style="transform:matrix(1.012,0,0,0.970,32.09,501.84)">u</i>
<i class="h b sB" style="transform:matrix(0.981,0,0,1,53.15,501.00)">b</i>
<i class="h b sB" style="transform:matrix(1.001,0,0,1,72.70,501.00)">-</i>
<i class="h b sB" style="transform:matrix(0.982,0,0,1,83.44,501.00)">d</i>
<i class="h b sB" style="transform:matrix(1.146,0,0,1,103.24,501.00)">i</i>
<i class="h b sB" style="transform:matrix(1.056,0,0,0.970,113.55,501.84)">m</i>
<i class="h b sB" style="transform:matrix(1.010,0,0,0.970,144.91,501.84)">e</i>
<i class="h b sB" style="transform:matrix(1.012,0,0,0.970,163.98,501.84)">n</i>
<i class="h b sB" style="transform:matrix(0.837,0,0,0.970,185.18,501.84)">s</i>
<i class="h b sB" style="transform:matrix(1.146,0,0,1,200.27,501.00)">i</i>
<i class="h b sB" style="transform:matrix(0.963,0,0,0.970,210.58,501.84)">o</i>
<i class="h b sB" style="transform:matrix(1.012,0,0,0.970,230.49,501.84)">n</i>
<i class="h b sB" style="transform:matrix(1.100,0,0,1,259.38,501.00);clip-path:polygon(-9px -9px,40px -9px,40px 23.43px,12.48px 23.43px,12.48px 40px,7.45px 40px,7.45px 23.43px,-9px 23.43px)">1</i>
<i class="h b sB" style="transform:matrix(1.174,0,0,1,277.00,501.00)">.</i>
<i class="h b sB" style="transform:matrix(0.871,0,0,0.970,287.24,501.84)">c</i>
<i class="h b sB" style="transform:matrix(0.822,0,0,1,312.15,501.00)">–</i>
<i class="h b sB" style="transform:matrix(0.782,0,0,1,337.15,501.00)">F</i>
<i class="h b sB" style="transform:matrix(0.885,0,0,0.970,354.06,501.84)">a</i>
<i class="h b sB" style="transform:matrix(0.837,0,0,0.970,373.36,501.84)">s</i>
<i class="h b sB" style="transform:matrix(1.191,0,0,1,389.06,501.00)">t</i>
<i class="h b sB" style="transform:matrix(0.842,0,0,1,412.02,501.00)">B</i>
<i class="h b sB" style="transform:matrix(1.117,0,0,0.970,432.58,501.84)">r</i>
<i class="h b sB" style="transform:matrix(0.963,0,0,0.970,447.23,501.84)">o</i>
<i class="h b sB" style="transform:matrix(0.885,0,0,0.970,467.34,501.84)">a</i>
<i class="h b sB" style="transform:matrix(0.982,0,0,1,486.29,501.00)">d</i>
<i class="h b sB" style="transform:matrix(0.981,0,0,1,506.79,501.00)">b</i>
<i class="h b sB" style="transform:matrix(0.885,0,0,0.970,527.17,501.84)">a</i>
<i class="h b sB" style="transform:matrix(1.012,0,0,0.970,546.31,501.84)">n</i>
<i class="h b sB" style="transform:matrix(0.982,0,0,1,567.15,501.00)">d</i>
<i class="sL" style="transform:matrix(0.950,0,0,1,56.90,556.00);clip-path:polygon(-9px -9px,40px -9px,40px 24.33px,11.46px 24.33px,11.46px 40px,8.05px 40px,8.05px 24.33px,-9px 24.33px)">1</i>
<i class="sL" style="transform:matrix(1.198,0,0,1,73.32,556.00)">.</i>
<i class="sL" style="transform:matrix(0.870,0,0,0.970,83.65,556.84)">c</i>
<i class="sL" style="transform:matrix(1.198,0,0,1,97.07,556.00)">.</i>
<i class="sL" style="transform:matrix(0.950,0,0,1,107.46,556.00);clip-path:polygon(-9px -9px,40px -9px,40px 24.33px,11.46px 24.33px,11.46px 40px,8.05px 40px,8.05px 24.33px,-9px 24.33px)">1</i>
<i class="sL" style="transform:matrix(0.750,0,0,1,134.56,556.00)">–</i>
<i class="sL" style="transform:matrix(0.790,0,0,1,158.75,556.00)">F</i>
<i class="sL" style="transform:matrix(0.810,0,0,0.970,174.60,556.84)">a</i>
<i class="sL" style="transform:matrix(0.844,0,0,0.970,192.94,556.84)">s</i>
<i class="sL" style="transform:matrix(1.203,0,0,1,207.21,556.00)">t</i>
<i class="sL" style="transform:matrix(1.016,0,0,1,227.52,556.00)">b</i>
<i class="sL" style="transform:matrix(1.195,0,0,0.970,246.67,556.84)">r</i>
<i class="sL" style="transform:matrix(1.010,0,0,0.970,260.00,556.84)">o</i>
<i class="sL" style="transform:matrix(0.810,0,0,0.970,279.27,556.84)">a</i>
<i class="sL" style="transform:matrix(1.015,0,0,1,297.12,556.00)">d</i>
<i class="sL" style="transform:matrix(1.016,0,0,1,316.93,556.00)">b</i>
<i class="sL" style="transform:matrix(0.810,0,0,0.970,336.28,556.84)">a</i>
<i class="sL" style="transform:matrix(1.021,0,0,0.970,354.26,556.84)">n</i>
<i class="sL" style="transform:matrix(1.015,0,0,1,373.78,556.00)">d</i>
<i class="sL" style="transform:matrix(0.870,0,0,0.970,401.89,556.84)">c</i>
<i class="sL" style="transform:matrix(1.010,0,0,0.970,416.94,556.84)">o</i>
<i class="sL" style="transform:matrix(0.985,0,0,0.970,435.76,556.84)">v</i>
<i class="sL" style="transform:matrix(0.935,0,0,0.970,452.39,556.84)">e</i>
<i class="sL" style="transform:matrix(1.195,0,0,0.970,469.99,556.84)">r</i>
<i class="sL" style="transform:matrix(0.810,0,0,0.970,483.25,556.84)">a</i>
<i class="sL" style="transform:matrix(1.089,0,0,1,499.82,556.00)">g</i>
<i class="sL" style="transform:matrix(0.935,0,0,0.970,518.73,556.84)">e</i>
<i class="sY" style="transform:matrix(0.979,0,0,1,996.63,560.00)">9</i>
<i class="sY" style="transform:matrix(0.919,0,0,1,1015.65,560.00)">5</i>
<i class="sY" style="transform:matrix(1.300,0,0,1,1030.46,560.00)">,</i>
<i class="sY" style="transform:matrix(0.950,0,0,1,1041.56,560.00);clip-path:polygon(-9px -9px,40px -9px,40px 24.33px,11.46px 24.33px,11.46px 40px,8.05px 40px,8.05px 24.33px,-9px 24.33px)">1</i>
<i class="sY" style="transform:matrix(0.950,0,0,1,1059.86,560.00);clip-path:polygon(-9px -9px,40px -9px,40px 24.33px,11.46px 24.33px,11.46px 40px,8.05px 40px,8.05px 24.33px,-9px 24.33px)">1</i>
<i class="sL" style="transform:matrix(0.970,0,0,1,1210.59,560.00)">8</i>
<i class="sL" style="transform:matrix(0.970,0,0,1,1358.22,560.00)">8</i>
<i class="sL" style="transform:matrix(0.970,0,0,1,1376.52,560.00)">8</i>
<i class="sL" style="transform:matrix(1.300,0,0,1,1391.96,560.00)">,</i>
<i class="sL" style="transform:matrix(0.950,0,0,1,1403.06,560.00);clip-path:polygon(-9px -9px,40px -9px,40px 24.33px,11.46px 24.33px,11.46px 40px,8.05px 40px,8.05px 24.33px,-9px 24.33px)">1</i>
<i class="sL" style="transform:matrix(0.979,0,0,1,1420.86,560.00)">9</i>
<i class="sL" style="transform:matrix(0.979,0,0,1,1533.63,560.00)">9</i>
<i class="sL" style="transform:matrix(0.979,0,0,1,1551.92,560.00)">9</i>
<i class="sL" style="transform:matrix(1.300,0,0,1,1567.46,560.00)">,</i>
<i class="sL" style="transform:matrix(0.979,0,0,1,1578.06,560.00)">9</i>
<i class="sL" style="transform:matrix(0.919,0,0,1,1597.08,560.00)">5</i>
<i class="sL" style="transform:matrix(0.970,0,0,1,1713.72,560.00)">8</i>
<i class="sL" style="transform:matrix(0.956,0,0,1,1732.05,560.00)">3</i>
<i class="sL" style="transform:matrix(1.300,0,0,1,1747.46,560.00)">,</i>
<i class="sL" style="transform:matrix(0.950,0,0,1,1758.56,560.00);clip-path:polygon(-9px -9px,40px -9px,40px 24.33px,11.46px 24.33px,11.46px 40px,8.05px 40px,8.05px 24.33px,-9px 24.33px)">1</i>
<i class="sL" style="transform:matrix(0.919,0,0,1,1777.08,560.00)">5</i>
<i class="sW" style="transform:matrix(0.950,0,0,1,56.90,611.00);clip-path:polygon(-9px -9px,40px -9px,40px 24.33px,11.46px 24.33px,11.46px 40px,8.05px 40px,8.05px 24.33px,-9px 24.33px)">1</i>
<i class="sW" style="transform:matrix(1.198,0,0,1,73.32,611.00)">.</i>
<i class="sW" style="transform:matrix(0.870,0,0,0.970,83.65,611.84)">c</i>
<i class="sW" style="transform:matrix(1.198,0,0,1,97.07,611.00)">.</i>
<i class="sW" style="transform:matrix(0.999,0,0,1,106.73,611.00)">2</i>
<i class="sW" style="transform:matrix(0.750,0,0,1,134.56,611.00)">–</i>
<i class="sW" style="transform:matrix(0.790,0,0,1,158.75,611.00)">F</i>
<i class="sW" style="transform:matrix(0.810,0,0,0.970,174.60,611.84)">a</i>
<i class="sW" style="transform:matrix(0.844,0,0,0.970,192.94,611.84)">s</i>
<i class="sW" style="transform:matrix(1.203,0,0,1,207.21,611.00)">t</i>
<i class="sW" style="transform:matrix(1.016,0,0,1,227.52,611.00)">b</i>
<i class="sW" style="transform:matrix(1.195,0,0,0.970,246.67,611.84)">r</i>
<i class="sW" style="transform:matrix(1.010,0,0,0.970,260.00,611.84)">o</i>
<i class="sW" style="transform:matrix(0.810,0,0,0.970,279.27,611.84)">a</i>
<i class="sW" style="transform:matrix(1.015,0,0,1,297.12,611.00)">d</i>
<i class="sW" style="transform:matrix(1.016,0,0,1,316.93,611.00)">b</i>
<i class="sW" style="transform:matrix(0.810,0,0,0.970,336.28,611.84)">a</i>
<i class="sW" style="transform:matrix(1.021,0,0,0.970,354.26,611.84)">n</i>
<i class="sW" style="transform:matrix(1.015,0,0,1,373.78,611.00)">d</i>
<i class="sW" style="transform:matrix(1.203,0,0,1,401.19,611.00)">t</i>
<i class="sW" style="transform:matrix(0.810,0,0,0.970,412.94,611.84)">a</i>
<i class="sW" style="transform:matrix(0.957,0,0,1,431.03,611.00)">k</i>
<i class="sW" style="transform:matrix(0.935,0,0,0.970,447.69,611.84)">e</i>
<i class="sW" style="transform:matrix(0.952,0,0,1,465.07,611.00)">-</i>
<i class="sW" style="transform:matrix(1.022,0,0,0.970,475.82,611.84)">u</i>
<i class="sW" style="transform:matrix(1.016,0,0,1,495.68,611.00)">p</i>
<i class="sZ" style="transform:matrix(0.979,0,0,1,996.67,615.00)">6</i>
<i class="sZ" style="transform:matrix(0.970,0,0,1,1015.02,615.00)">8</i>
<i class="sZ" style="transform:matrix(1.300,0,0,1,1030.46,615.00)">,</i>
<i class="sZ" style="transform:matrix(1.013,0,0,1,1040.68,615.00)">7</i>
<i class="sZ" style="transform:matrix(0.956,0,0,1,1059.49,615.00)">3</i>
<i class="sW" style="transform:matrix(0.999,0,0,1,1210.26,615.00)">2</i>
<i class="sW" style="transform:matrix(0.919,0,0,1,1358.85,615.00)">5</i>
<i class="sW" style="transform:matrix(1.021,0,0,1,1376.18,615.00)">4</i>
<i class="sW" style="transform:matrix(1.300,0,0,1,1391.96,615.00)">,</i>
<i class="sW" style="transform:matrix(0.958,0,0,1,1402.78,615.00)">0</i>
<i class="sW" style="transform:matrix(0.979,0,0,1,1420.91,615.00)">6</i>
<i class="sW" style="transform:matrix(1.013,0,0,1,1533.24,615.00)">7</i>
<i class="sW" style="transform:matrix(0.979,0,0,1,1551.97,615.00)">6</i>
<i class="sW" style="transform:matrix(1.300,0,0,1,1567.46,615.00)">,</i>
<i class="sW" style="transform:matrix(0.950,0,0,1,1578.56,615.00);clip-path:polygon(-9px -9px,40px -9px,40px 24.33px,11.46px 24.33px,11.46px 40px,8.05px 40px,8.05px 24.33px,-9px 24.33px)">1</i>
<i class="sW" style="transform:matrix(0.956,0,0,1,1596.49,615.00)">3</i>
<i class="sW" style="transform:matrix(1.021,0,0,1,1713.38,615.00)">4</i>
<i class="sW" style="transform:matrix(0.958,0,0,1,1732.14,615.00)">0</i>
<i class="sW" style="transform:matrix(1.300,0,0,1,1747.46,615.00)">,</i>
<i class="sW" style="transform:matrix(0.979,0,0,1,1758.11,615.00)">6</i>
<i class="sW" style="transform:matrix(0.958,0,0,1,1776.58,615.00)">0</i>
<i class="h b sB" style="transform:matrix(0.753,0,0,1,14.88,666.00)">S</i>
<i class="h b sB" style="transform:matrix(1.012,0,0,0.970,32.09,666.84)">u</i>
<i class="h b sB" style="transform:matrix(0.981,0,0,1,53.15,666.00)">b</i>
<i class="h b sB" style="transform:matrix(1.001,0,0,1,72.70,666.00)">-</i>
<i class="h b sB" style="transform:matrix(0.982,0,0,1,83.44,666.00)">d</i>
<i class="h b sB" style="transform:matrix(1.146,0,0,1,103.24,666.00)">i</i>
<i class="h b sB" style="transform:matrix(1.056,0,0,0.970,113.55,666.84)">m</i>
<i class="h b sB" style="transform:matrix(1.010,0,0,0.970,144.91,666.84)">e</i>
<i class="h b sB" style="transform:matrix(1.012,0,0,0.970,163.98,666.84)">n</i>
<i class="h b sB" style="transform:matrix(0.837,0,0,0.970,185.18,666.84)">s</i>
<i class="h b sB" style="transform:matrix(1.146,0,0,1,200.27,666.00)">i</i>
<i class="h b sB" style="transform:matrix(0.963,0,0,0.970,210.58,666.84)">o</i>
<i class="h b sB" style="transform:matrix(1.012,0,0,0.970,230.49,666.84)">n</i>
<i class="h b sB" style="transform:matrix(1.100,0,0,1,259.38,666.00);clip-path:polygon(-9px -9px,40px -9px,40px 23.43px,12.48px 23.43px,12.48px 40px,7.45px 40px,7.45px 23.43px,-9px 23.43px)">1</i>
<i class="h b sB" style="transform:matrix(1.174,0,0,1,277.00,666.00)">.</i>
<i class="h b sB" style="transform:matrix(0.982,0,0,1,287.04,666.00)">d</i>
<i class="h b sB" style="transform:matrix(0.822,0,0,1,315.95,666.00)">–</i>
<i class="h b sB" style="transform:matrix(0.945,0,0,1,340.65,666.00)">U</i>
<i class="h b sB" style="transform:matrix(1.053,0,0,1,364.07,666.00)">l</i>
<i class="h b sB" style="transform:matrix(1.191,0,0,1,374.01,666.00)">t</i>
<i class="h b sB" style="transform:matrix(1.117,0,0,0.970,387.72,666.84)">r</i>
<i class="h b sB" style="transform:matrix(0.885,0,0,0.970,402.67,666.84)">a</i>
<i class="h b sB" style="transform:matrix(1.257,0,0,1,421.44,666.00)">f</i>
<i class="h b sB" style="transform:matrix(0.885,0,0,0.970,434.38,666.84)">a</i>
<i class="h b sB" style="transform:matrix(0.837,0,0,0.970,453.69,666.84)">s</i>
<i class="h b sB" style="transform:matrix(1.191,0,0,1,469.39,666.00)">t</i>
<i class="h b sB" style="transform:matrix(0.842,0,0,1,492.35,666.00)">B</i>
<i class="h b sB" style="transform:matrix(1.117,0,0,0.970,512.90,666.84)">r</i>
<i class="h b sB" style="transform:matrix(0.963,0,0,0.970,527.56,666.84)">o</i>
<i class="h b sB" style="transform:matrix(0.885,0,0,0.970,547.67,666.84)">a</i>
<i class="h b sB" style="transform:matrix(0.982,0,0,1,566.61,666.00)">d</i>
<i class="h b sB" style="transform:matrix(0.981,0,0,1,587.12,666.00)">b</i>
<i class="h b sB" style="transform:matrix(0.885,0,0,0.970,607.49,666.84)">a</i>
<i class="h b sB" style="transform:matrix(1.012,0,0,0.970,626.63,666.84)">n</i>
<i class="h b sB" style="transform:matrix(0.982,0,0,1,647.47,666.00)">d</i>
<i class="sL" style="transform:matrix(0.950,0,0,1,65.70,721.00);clip-path:polygon(-9px -9px,40px -9px,40px 24.33px,11.46px 24.33px,11.46px 40px,8.05px 40px,8.05px 24.33px,-9px 24.33px)">1</i>
<i class="sL" style="transform:matrix(1.198,0,0,1,82.12,721.00)">.</i>
<i class="sL" style="transform:matrix(1.015,0,0,1,92.27,721.00)">d</i>
<i class="sL" style="transform:matrix(1.198,0,0,1,110.25,721.00)">.</i>
<i class="sL" style="transform:matrix(0.950,0,0,1,120.64,721.00);clip-path:polygon(-9px -9px,40px -9px,40px 24.33px,11.46px 24.33px,11.46px 40px,8.05px 40px,8.05px 24.33px,-9px 24.33px)">1</i>
<i class="sL" style="transform:matrix(0.750,0,0,1,147.73,721.00)">–</i>
<i class="sL" style="transform:matrix(0.933,0,0,1,171.45,721.00)">U</i>
<i class="sL" style="transform:matrix(0.894,0,0,1,194.98,721.00)">l</i>
<i class="sL" style="transform:matrix(1.203,0,0,1,202.20,721.00)">t</i>
<i class="sL" style="transform:matrix(1.195,0,0,0.970,213.74,721.84)">r</i>
<i class="sL" style="transform:matrix(0.810,0,0,0.970,227.00,721.84)">a</i>
<i class="sL" style="transform:matrix(1.300,0,0,1,244.51,721.00)">f</i>
<i class="sL" style="transform:matrix(0.810,0,0,0.970,255.65,721.84)">a</i>
<i class="sL" style="transform:matrix(0.844,0,0,0.970,273.99,721.84)">s</i>
<i class="sL" style="transform:matrix(1.203,0,0,1,288.26,721.00)">t</i>
<i class="sL" style="transform:matrix(1.016,0,0,1,308.57,721.00)">b</i>
<i class="sL" style="transform:matrix(1.195,0,0,0.970,327.72,721.84)">r</i>
<i class="sL" style="transform:matrix(1.010,0,0,0.970,341.05,721.84)">o</i>
<i class="sL" style="transform:matrix(0.810,0,0,0.970,360.32,721.84)">a</i>
<i class="sL" style="transform:matrix(1.015,0,0,1,378.17,721.00)">d</i>
<i class="sL" style="transform:matrix(1.016,0,0,1,397.98,721.00)">b</i>
<i class="sL" style="transform:matrix(0.810,0,0,0.970,417.33,721.84)">a</i>
<i class="sL" style="transform:matrix(1.021,0,0,0.970,435.31,721.84)">n</i>
<i class="sL" style="transform:matrix(1.015,0,0,1,454.83,721.00)">d</i>
<i class="sL" style="transform:matrix(0.870,0,0,0.970,482.94,721.84)">c</i>
<i class="sL" style="transform:matrix(1.010,0,0,0.970,497.99,721.84)">o</i>
<i class="sL" style="transform:matrix(0.985,0,0,0.970,516.81,721.84)">v</i>
<i class="sL" style="transform:matrix(0.935,0,0,0.970,533.44,721.84)">e</i>
<i class="sL" style="transform:matrix(1.195,0,0,0.970,551.04,721.84)">r</i>
<i class="sL" style="transform:matrix(0.810,0,0,0.970,564.30,721.84)">a</i>
<i class="sL" style="transform:matrix(1.089,0,0,1,580.87,721.00)">g</i>
<i class="sL" style="transform:matrix(0.935,0,0,0.970,599.78,721.84)">e</i>
<i class="sY" style="transform:matrix(0.979,0,0,1,996.63,724.00)">9</i>
<i class="sY" style="transform:matrix(1.021,0,0,1,1014.68,724.00)">4</i>
<i class="sY" style="transform:matrix(1.300,0,0,1,1030.46,724.00)">,</i>
<i class="sY" style="transform:matrix(0.956,0,0,1,1041.19,724.00)">3</i>
<i class="sY" style="transform:matrix(1.021,0,0,1,1059.12,724.00)">4</i>
<i class="sL" style="transform:matrix(1.021,0,0,1,1210.25,724.00)">4</i>
<i class="sL" style="transform:matrix(0.970,0,0,1,1358.22,724.00)">8</i>
<i class="sL" style="transform:matrix(1.013,0,0,1,1376.04,724.00)">7</i>
<i class="sL" style="transform:matrix(1.300,0,0,1,1391.96,724.00)">,</i>
<i class="sL" style="transform:matrix(0.999,0,0,1,1402.33,724.00)">2</i>
<i class="sL" style="transform:matrix(1.021,0,0,1,1420.62,724.00)">4</i>
<i class="sL" style="transform:matrix(0.979,0,0,1,1533.63,724.00)">9</i>
<i class="sL" style="transform:matrix(0.979,0,0,1,1551.92,724.00)">9</i>
<i class="sL" style="transform:matrix(1.300,0,0,1,1567.46,724.00)">,</i>
<i class="sL" style="transform:matrix(0.979,0,0,1,1578.06,724.00)">9</i>
<i class="sL" style="transform:matrix(0.919,0,0,1,1597.08,724.00)">5</i>
<i class="sL" style="transform:matrix(0.919,0,0,1,1714.35,724.00)">5</i>
<i class="sL" style="transform:matrix(0.979,0,0,1,1731.92,724.00)">9</i>
<i class="sL" style="transform:matrix(1.300,0,0,1,1747.46,724.00)">,</i>
<i class="sL" style="transform:matrix(0.979,0,0,1,1758.06,724.00)">9</i>
<i class="sL" style="transform:matrix(0.958,0,0,1,1776.58,724.00)">0</i>
<i class="sW" style="transform:matrix(0.950,0,0,1,65.70,774.00);clip-path:polygon(-9px -9px,40px -9px,40px 24.33px,11.46px 24.33px,11.46px 40px,8.05px 40px,8.05px 24.33px,-9px 24.33px)">1</i>
<i class="sW" style="transform:matrix(1.198,0,0,1,82.12,774.00)">.</i>
<i class="sW" style="transform:matrix(1.015,0,0,1,92.27,774.00)">d</i>
<i class="sW" style="transform:matrix(1.198,0,0,1,110.25,774.00)">.</i>
<i class="sW" style="transform:matrix(0.999,0,0,1,119.90,774.00)">2</i>
<i class="sW" style="transform:matrix(0.750,0,0,1,147.73,774.00)">–</i>
<i class="sW" style="transform:matrix(0.933,0,0,1,171.45,774.00)">U</i>
<i class="sW" style="transform:matrix(0.894,0,0,1,194.98,774.00)">l</i>
<i class="sW" style="transform:matrix(1.203,0,0,1,202.20,774.00)">t</i>
<i class="sW" style="transform:matrix(1.195,0,0,0.970,213.74,774.84)">r</i>
<i class="sW" style="transform:matrix(0.810,0,0,0.970,227.00,774.84)">a</i>
<i class="sW" style="transform:matrix(1.300,0,0,1,244.51,774.00)">f</i>
<i class="sW" style="transform:matrix(0.810,0,0,0.970,255.65,774.84)">a</i>
<i class="sW" style="transform:matrix(0.844,0,0,0.970,273.99,774.84)">s</i>
<i class="sW" style="transform:matrix(1.203,0,0,1,288.26,774.00)">t</i>
<i class="sW" style="transform:matrix(1.016,0,0,1,308.57,774.00)">b</i>
<i class="sW" style="transform:matrix(1.195,0,0,0.970,327.72,774.84)">r</i>
<i class="sW" style="transform:matrix(1.010,0,0,0.970,341.05,774.84)">o</i>
<i class="sW" style="transform:matrix(0.810,0,0,0.970,360.32,774.84)">a</i>
<i class="sW" style="transform:matrix(1.015,0,0,1,378.17,774.00)">d</i>
<i class="sW" style="transform:matrix(1.016,0,0,1,397.98,774.00)">b</i>
<i class="sW" style="transform:matrix(0.810,0,0,0.970,417.33,774.84)">a</i>
<i class="sW" style="transform:matrix(1.021,0,0,0.970,435.31,774.84)">n</i>
<i class="sW" style="transform:matrix(1.015,0,0,1,454.83,774.00)">d</i>
<i class="sW" style="transform:matrix(1.203,0,0,1,482.24,774.00)">t</i>
<i class="sW" style="transform:matrix(0.810,0,0,0.970,493.99,774.84)">a</i>
<i class="sW" style="transform:matrix(0.957,0,0,1,512.08,774.00)">k</i>
<i class="sW" style="transform:matrix(0.935,0,0,0.970,528.74,774.84)">e</i>
<i class="sW" style="transform:matrix(0.952,0,0,1,546.12,774.00)">-</i>
<i class="sW" style="transform:matrix(1.022,0,0,0.970,556.87,774.84)">u</i>
<i class="sW" style="transform:matrix(1.016,0,0,1,576.73,774.00)">p</i>
<i class="sZ" style="transform:matrix(0.999,0,0,1,996.39,777.00)">2</i>
<i class="sZ" style="transform:matrix(0.979,0,0,1,1014.92,777.00)">9</i>
<i class="sZ" style="transform:matrix(1.300,0,0,1,1030.46,777.00)">,</i>
<i class="sZ" style="transform:matrix(0.958,0,0,1,1041.28,777.00)">0</i>
<i class="sZ" style="transform:matrix(0.950,0,0,1,1059.86,777.00);clip-path:polygon(-9px -9px,40px -9px,40px 24.33px,11.46px 24.33px,11.46px 40px,8.05px 40px,8.05px 24.33px,-9px 24.33px)">1</i>
<i class="sW" style="transform:matrix(0.950,0,0,1,1201.84,777.00);clip-path:polygon(-9px -9px,40px -9px,40px 24.33px,11.46px 24.33px,11.46px 40px,8.05px 40px,8.05px 24.33px,-9px 24.33px)">1</i>
<i class="sW" style="transform:matrix(0.950,0,0,1,1220.14,777.00);clip-path:polygon(-9px -9px,40px -9px,40px 24.33px,11.46px 24.33px,11.46px 40px,8.05px 40px,8.05px 24.33px,-9px 24.33px)">1</i>
<i class="sW" style="transform:matrix(0.956,0,0,1,1358.25,777.00)">3</i>
<i class="sW" style="transform:matrix(0.958,0,0,1,1376.64,777.00)">0</i>
<i class="sW" style="transform:matrix(1.300,0,0,1,1391.96,777.00)">,</i>
<i class="sW" style="transform:matrix(0.958,0,0,1,1402.78,777.00)">0</i>
<i class="sW" style="transform:matrix(0.979,0,0,1,1420.86,777.00)">9</i>
<i class="sW" style="transform:matrix(0.919,0,0,1,1534.35,777.00)">5</i>
<i class="sW" style="transform:matrix(0.956,0,0,1,1552.05,777.00)">3</i>
<i class="sW" style="transform:matrix(1.300,0,0,1,1567.46,777.00)">,</i>
<i class="sW" style="transform:matrix(0.979,0,0,1,1578.06,777.00)">9</i>
<i class="sW" style="transform:matrix(0.956,0,0,1,1596.49,777.00)">3</i>
<i class="sW" style="transform:matrix(0.950,0,0,1,1714.12,777.00);clip-path:polygon(-9px -9px,40px -9px,40px 24.33px,11.46px 24.33px,11.46px 40px,8.05px 40px,8.05px 24.33px,-9px 24.33px)">1</i>
<i class="sW" style="transform:matrix(0.979,0,0,1,1731.92,777.00)">9</i>
<i class="sW" style="transform:matrix(1.300,0,0,1,1747.46,777.00)">,</i>
<i class="sW" style="transform:matrix(0.979,0,0,1,1758.06,777.00)">9</i>
<i class="sW" style="transform:matrix(0.950,0,0,1,1776.86,777.00);clip-path:polygon(-9px -9px,40px -9px,40px 24.33px,11.46px 24.33px,11.46px 40px,8.05px 40px,8.05px 24.33px,-9px 24.33px)">1</i>
<i class="h b sB" style="transform:matrix(0.753,0,0,1,14.88,827.00)">S</i>
<i class="h b sB" style="transform:matrix(1.012,0,0,0.970,32.09,827.84)">u</i>
<i class="h b sB" style="transform:matrix(0.981,0,0,1,53.15,827.00)">b</i>
<i class="h b sB" style="transform:matrix(1.001,0,0,1,72.70,827.00)">-</i>
<i class="h b sB" style="transform:matrix(0.982,0,0,1,83.44,827.00)">d</i>
<i class="h b sB" style="transform:matrix(1.146,0,0,1,103.24,827.00)">i</i>
<i class="h b sB" style="transform:matrix(1.056,0,0,0.970,113.55,827.84)">m</i>
<i class="h b sB" style="transform:matrix(1.010,0,0,0.970,144.91,827.84)">e</i>
<i class="h b sB" style="transform:matrix(1.012,0,0,0.970,163.98,827.84)">n</i>
<i class="h b sB" style="transform:matrix(0.837,0,0,0.970,185.18,827.84)">s</i>
<i class="h b sB" style="transform:matrix(1.146,0,0,1,200.27,827.00)">i</i>
<i class="h b sB" style="transform:matrix(0.963,0,0,0.970,210.58,827.84)">o</i>
<i class="h b sB" style="transform:matrix(1.012,0,0,0.970,230.49,827.84)">n</i>
<i class="h b sB" style="transform:matrix(1.100,0,0,1,259.38,827.00);clip-path:polygon(-9px -9px,40px -9px,40px 23.43px,12.48px 23.43px,12.48px 40px,7.45px 40px,7.45px 23.43px,-9px 23.43px)">1</i>
<i class="h b sB" style="transform:matrix(1.174,0,0,1,277.00,827.00)">.</i>
<i class="h b sB" style="transform:matrix(1.010,0,0,0.970,287.06,827.84)">e</i>
<i class="h b sB" style="transform:matrix(0.822,0,0,1,314.61,827.00)">–</i>
<i class="h b sB" style="transform:matrix(0.842,0,0,1,339.48,827.00)">B</i>
<i class="h b sB" style="transform:matrix(1.117,0,0,0.970,360.03,827.84)">r</i>
<i class="h b sB" style="transform:matrix(0.963,0,0,0.970,374.69,827.84)">o</i>
<i class="h b sB" style="transform:matrix(0.885,0,0,0.970,394.79,827.84)">a</i>
<i class="h b sB" style="transform:matrix(0.982,0,0,1,413.74,827.00)">d</i>
<i class="h b sB" style="transform:matrix(0.981,0,0,1,434.25,827.00)">b</i>
<i class="h b sB" style="transform:matrix(0.885,0,0,0.970,454.62,827.84)">a</i>
<i class="h b sB" style="transform:matrix(1.012,0,0,0.970,473.76,827.84)">n</i>
<i class="h b sB" style="transform:matrix(0.982,0,0,1,494.60,827.00)">d</i>
<i class="h b sB" style="transform:matrix(0.845,0,0,1,524.06,827.00)">P</i>
<i class="h b sB" style="transform:matrix(1.117,0,0,0.970,543.22,827.84)">r</i>
<i class="h b sB" style="transform:matrix(1.146,0,0,1,557.34,827.00)">i</i>
<i class="h b sB" style="transform:matrix(0.871,0,0,0.970,567.76,827.84)">c</i>
<i class="h b sB" style="transform:matrix(1.010,0,0,0.970,584.03,827.84)">e</i>
<i class="h b sB" style="transform:matrix(1.019,0,0,1,611.74,827.00)">I</i>
<i class="h b sB" style="transform:matrix(1.012,0,0,0.970,622.01,827.84)">n</i>
<i class="h b sB" style="transform:matrix(0.982,0,0,1,642.85,827.00)">d</i>
<i class="h b sB" style="transform:matrix(1.010,0,0,0.970,663.13,827.84)">e</i>
<i class="h b sB" style="transform:matrix(1.017,0,0,0.970,681.82,827.84)">x</i>
<i class="sL" style="transform:matrix(0.950,0,0,1,56.90,882.00);clip-path:polygon(-9px -9px,40px -9px,40px 24.33px,11.46px 24.33px,11.46px 40px,8.05px 40px,8.05px 24.33px,-9px 24.33px)">1</i>
<i class="sL" style="transform:matrix(1.198,0,0,1,73.32,882.00)">.</i>
<i class="sL" style="transform:matrix(0.935,0,0,0.970,83.56,882.84)">e</i>
<i class="sL" style="transform:matrix(1.198,0,0,1,99.79,882.00)">.</i>
<i class="sL" style="transform:matrix(0.950,0,0,1,110.18,882.00);clip-path:polygon(-9px -9px,40px -9px,40px 24.33px,11.46px 24.33px,11.46px 40px,8.05px 40px,8.05px 24.33px,-9px 24.33px)">1</i>
<i class="sL" style="transform:matrix(0.750,0,0,1,137.28,882.00)">–</i>
<i class="sL" style="transform:matrix(0.901,0,0,1,161.17,882.00)">B</i>
<i class="sL" style="transform:matrix(1.195,0,0,0.970,181.33,882.84)">r</i>
<i class="sL" style="transform:matrix(1.010,0,0,0.970,194.66,882.84)">o</i>
<i class="sL" style="transform:matrix(0.810,0,0,0.970,213.92,882.84)">a</i>
<i class="sL" style="transform:matrix(1.015,0,0,1,231.78,882.00)">d</i>
<i class="sL" style="transform:matrix(1.016,0,0,1,251.59,882.00)">b</i>
<i class="sL" style="transform:matrix(0.810,0,0,0.970,270.94,882.84)">a</i>
<i class="sL" style="transform:matrix(1.021,0,0,0.970,288.92,882.84)">n</i>
<i class="sL" style="transform:matrix(1.015,0,0,1,308.43,882.00)">d</i>
<i class="sL" style="transform:matrix(1.016,0,0,1,336.55,882.00)">p</i>
<i class="sL" style="transform:matrix(1.195,0,0,0.970,355.71,882.84)">r</i>
<i class="sL" style="transform:matrix(1.056,0,0,1,368.84,882.00)">i</i>
<i class="sL" style="transform:matrix(0.870,0,0,0.970,377.31,882.84)">c</i>
<i class="sL" style="transform:matrix(0.935,0,0,0.970,392.45,882.84)">e</i>
<i class="sL" style="transform:matrix(1.056,0,0,1,418.43,882.00)">i</i>
<i class="sL" style="transform:matrix(1.021,0,0,0.970,426.84,882.84)">n</i>
<i class="sL" style="transform:matrix(1.015,0,0,1,446.36,882.00)">d</i>
<i class="sL" style="transform:matrix(0.935,0,0,0.970,466.06,882.84)">e</i>
<i class="sL" style="transform:matrix(0.984,0,0,0.970,483.77,882.84)">x</i>
<i class="sY" style="transform:matrix(0.970,0,0,1,996.72,886.00)">8</i>
<i class="sY" style="transform:matrix(0.958,0,0,1,1015.14,886.00)">0</i>
<i class="sY" style="transform:matrix(1.300,0,0,1,1030.46,886.00)">,</i>
<i class="sY" style="transform:matrix(1.013,0,0,1,1040.68,886.00)">7</i>
<i class="sY" style="transform:matrix(0.979,0,0,1,1059.36,886.00)">9</i>
<i class="sL" style="transform:matrix(0.999,0,0,1,1201.11,886.00)">2</i>
<i class="sL" style="transform:matrix(0.950,0,0,1,1220.14,886.00);clip-path:polygon(-9px -9px,40px -9px,40px 24.33px,11.46px 24.33px,11.46px 40px,8.05px 40px,8.05px 24.33px,-9px 24.33px)">1</i>
<i class="sL" style="transform:matrix(1.013,0,0,1,1357.74,886.00)">7</i>
<i class="sL" style="transform:matrix(0.979,0,0,1,1376.47,886.00)">6</i>
<i class="sL" style="transform:matrix(1.300,0,0,1,1391.96,886.00)">,</i>
<i class="sL" style="transform:matrix(0.956,0,0,1,1402.69,886.00)">3</i>
<i class="sL" style="transform:matrix(0.950,0,0,1,1421.36,886.00);clip-path:polygon(-9px -9px,40px -9px,40px 24.33px,11.46px 24.33px,11.46px 40px,8.05px 40px,8.05px 24.33px,-9px 24.33px)">1</i>
<i class="sL" style="transform:matrix(0.979,0,0,1,1533.63,886.00)">9</i>
<i class="sL" style="transform:matrix(1.021,0,0,1,1551.68,886.00)">4</i>
<i class="sL" style="transform:matrix(1.300,0,0,1,1567.46,886.00)">,</i>
<i class="sL" style="transform:matrix(0.958,0,0,1,1578.28,886.00)">0</i>
<i class="sL" style="transform:matrix(0.970,0,0,1,1596.45,886.00)">8</i>
<i class="sL" style="transform:matrix(0.970,0,0,1,1713.72,886.00)">8</i>
<i class="sL" style="transform:matrix(1.013,0,0,1,1731.54,886.00)">7</i>
<i class="sL" style="transform:matrix(1.300,0,0,1,1747.46,886.00)">,</i>
<i class="sL" style="transform:matrix(0.999,0,0,1,1757.83,886.00)">2</i>
<i class="sL" style="transform:matrix(0.950,0,0,1,1776.86,886.00);clip-path:polygon(-9px -9px,40px -9px,40px 24.33px,11.46px 24.33px,11.46px 40px,8.05px 40px,8.05px 24.33px,-9px 24.33px)">1</i>
</div></body></html>
